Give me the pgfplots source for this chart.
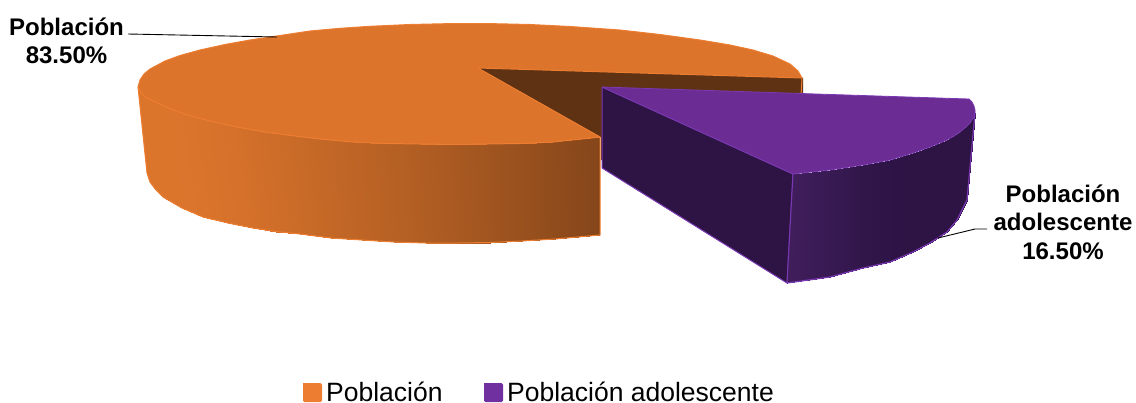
\documentclass[border=0pt]{standalone}
\usepackage{fontspec}
\setmainfont{Liberation Sans}
\usepackage{pgfplots}
\pgfplotsset{compat=1.18}
\definecolor{otop}{RGB}{220,116,44}
\definecolor{oedge}{RGB}{237,125,49}
\definecolor{odark}{RGB}{94,50,18}
\definecolor{ptop}{RGB}{107,45,147}
\definecolor{pedge}{RGB}{122,56,178}
\definecolor{pdark}{RGB}{45,20,69}
\definecolor{lego}{RGB}{237,125,49}
\definecolor{legp}{RGB}{112,48,160}
\pgfplotsset{
  colormap={oside}{rgb255=(220,117,44) rgb255=(133,70,26)},
  colormap={pside}{rgb255=(45,20,69) rgb255=(64,30,92)},
}
\begin{document}
\begin{tikzpicture}
\begin{axis}[
  name=main,
  width=1136pt,height=402pt,scale only axis,
  xmin=0,xmax=1136,ymin=0,ymax=402,y dir=reverse,
  axis lines=none,clip=true,
  point meta min=0,point meta max=1,
]
% orange outer wall: a base, then shaded strips
\addplot[fill=otop,draw=none,forget plot] coordinates {(138,87)(147,173)(150,182)(156,190)(163,197)(182,208)(203,217)(228,223)(253,228)(276,231.5)(300,234)(331,238)(362,240)(394,242)(426,243)(458,243)(490,242.5)(522,241)(555,239)(600,235)(600,137)(138,87)};
\addplot[patch,patch type=rectangle,shader=interp,colormap name=oside,forget plot]
 table[point meta=\thisrow{c}] {
x y c
138 87 0
147 173 0
150 182 0
141 93 0
141 93 0
150 182 0
156 190 0
147 98 0
147 98 0
156 190 0
163 197 0
153 101 0
153 101 0
163 197 0
182 208 0.01
170 108.5 0.01
170 108.5 0.01
182 208 0.01
203 217 0.02
187 115 0.02
187 115 0.02
203 217 0.02
228 223 0.06
212 121.5 0.06
212 121.5 0.06
228 223 0.06
253 228 0.1
237 127 0.1
237 127 0.1
253 228 0.1
276 231.5 0.15
262 131.5 0.15
262 131.5 0.15
276 231.5 0.15
300 234 0.2
287 135 0.2
287 135 0.2
300 234 0.2
331 238 0.28
320 139 0.28
320 139 0.28
331 238 0.28
362 240 0.35
353 142 0.35
353 142 0.35
362 240 0.35
394 242 0.42
387 143.5 0.42
387 143.5 0.42
394 242 0.42
426 243 0.5
420 144 0.5
420 144 0.5
426 243 0.5
458 243 0.59
453 144.5 0.59
453 144.5 0.59
458 243 0.59
490 242.5 0.68
487 144 0.68
487 144 0.68
490 242.5 0.68
522 241 0.77
520 143.5 0.77
520 143.5 0.77
522 241 0.77
555 239 0.87
553 142 0.87
553 142 0.87
555 239 0.87
600 235 1
600 137 1
};
% outline of the wall
\addplot[oedge,line width=1pt,forget plot] coordinates {(138,87)(147,173)(150,182)(156,190)(163,197)(182,208)(203,217)(228,223)(253,228)(276,231.5)(300,234)(331,238)(362,240)(394,242)(426,243)(458,243)(490,242.5)(522,241)(555,239)(600,235)(600,137)};
% top face
\addplot[fill=otop,draw=oedge,line width=1pt,forget plot] coordinates {
(138,87)(140,80)(144,74)(150,69)(165,61)(180,55.5)(200,50)(225,44.5)(250,40)(280,35.5)(310,31)(340,28.3)(370,26.3)(410,24.5)(450,23.6)(490,23.6)(530,24.5)(570,26.5)(620,30)(660,34.5)(700,40)(730,45)(753,50)(773,56)(790,64)(798,71)(802,78)(780,105)(700,125)(600,137)(553,142)(520,143.5)(487,144)(453,144.5)(420,144)(387,143.5)(353,142)(320,139)(287,135)(262,131.5)(237,127)(212,121.5)(187,115)(170,108.5)(153,101)(147,98)(141,93)(138,87)};
% inside wall
\addplot[fill=odark,draw=none,forget plot] coordinates {(478,68)(803,78)(803,160)(601,160)(601,137)(478,68)};
\addplot[oedge,line width=1pt,forget plot] coordinates {(478,68)(802,78)(801,96)};
\addplot[oedge,line width=1pt,forget plot] coordinates {(478,68)(600,137)};
% purple side walls
\addplot[fill=pdark,draw=pedge,line width=1pt,forget plot] coordinates {(602,87)(793,174)(787,283)(602,168)(602,87)};
\addplot[patch,patch type=rectangle,shader=interp,colormap name=pside,forget plot]
 table[point meta=\thisrow{c}] {
x y c
793 174 1
787 283 1
830 277 0.6
830 170 0.6
830 170 0.6
830 277 0.6
863 268 0.2
863 165 0.2
863 165 0.2
863 268 0.2
890 262 0.05
890 160 0.05
890 160 0.05
890 262 0.05
913 252 0
913 153 0
913 153 0
913 252 0
930 243 0
930 147 0
930 147 0
930 243 0
947 232 0
947 140 0
947 140 0
947 232 0
957 220 0
960 132 0
960 132 0
957 220 0
963 208 0
970 123 0
970 123 0
963 208 0
967 200 0
975 113 0
};
\addplot[pedge,line width=1.2pt,forget plot] coordinates {(787,283)(830,277)(863,268)(890,262)(913,252)(930,243)(947,232)(957,220)(963,208)(967,200)(975,113)};
\addplot[pedge,line width=1pt,forget plot] coordinates {(793,174)(787,283)};
% purple top face
\addplot[fill=ptop,draw=pedge,line width=0.8pt,forget plot] coordinates {
(602,87)(969,99)(972,102)(974,106)(975,110)(975,113)(974,117)(970,123)(966,127)(960,132)(953,136.5)(947,140)(930,147)(913,153)(890,160)(863,165)(830,170)(793,174)(602,87)};
% leader lines
\addplot[black,line width=0.9pt,forget plot] coordinates {(128,34)(277,37)};
\addplot[black,line width=0.9pt,forget plot] coordinates {(987,229)(975,229)(938,238)};
% legend swatches
\addplot[fill=lego,draw=none,rounded corners=1.5pt,forget plot] coordinates {(303,383)(322,383)(322,402)(303,402)(303,383)};
\addplot[fill=legp,draw=none,rounded corners=1.5pt,forget plot] coordinates {(484,383)(503,383)(503,402)(484,402)(484,383)};
% labels
\node[font=\fontsize{24}{28}\selectfont\bfseries,align=center,inner sep=0pt] at (axis cs:66.5,41) {Población\\83.50\%};
\node[font=\fontsize{24}{28.5}\selectfont\bfseries,align=center,inner sep=0pt] at (axis cs:1063,222) {Población\\adolescente\\16.50\%};
\node[font=\fontsize{26.5}{30}\selectfont,anchor=base west,inner sep=0pt] at (axis cs:326,401.5) {Población};
\node[font=\fontsize{26.5}{30}\selectfont,anchor=base west,inner sep=0pt] at (axis cs:507,401.5) {Población adolescente};
\end{axis}
\pgfresetboundingbox
\path[use as bounding box] (main.south west) rectangle (main.north east);
\end{tikzpicture}
\end{document}
